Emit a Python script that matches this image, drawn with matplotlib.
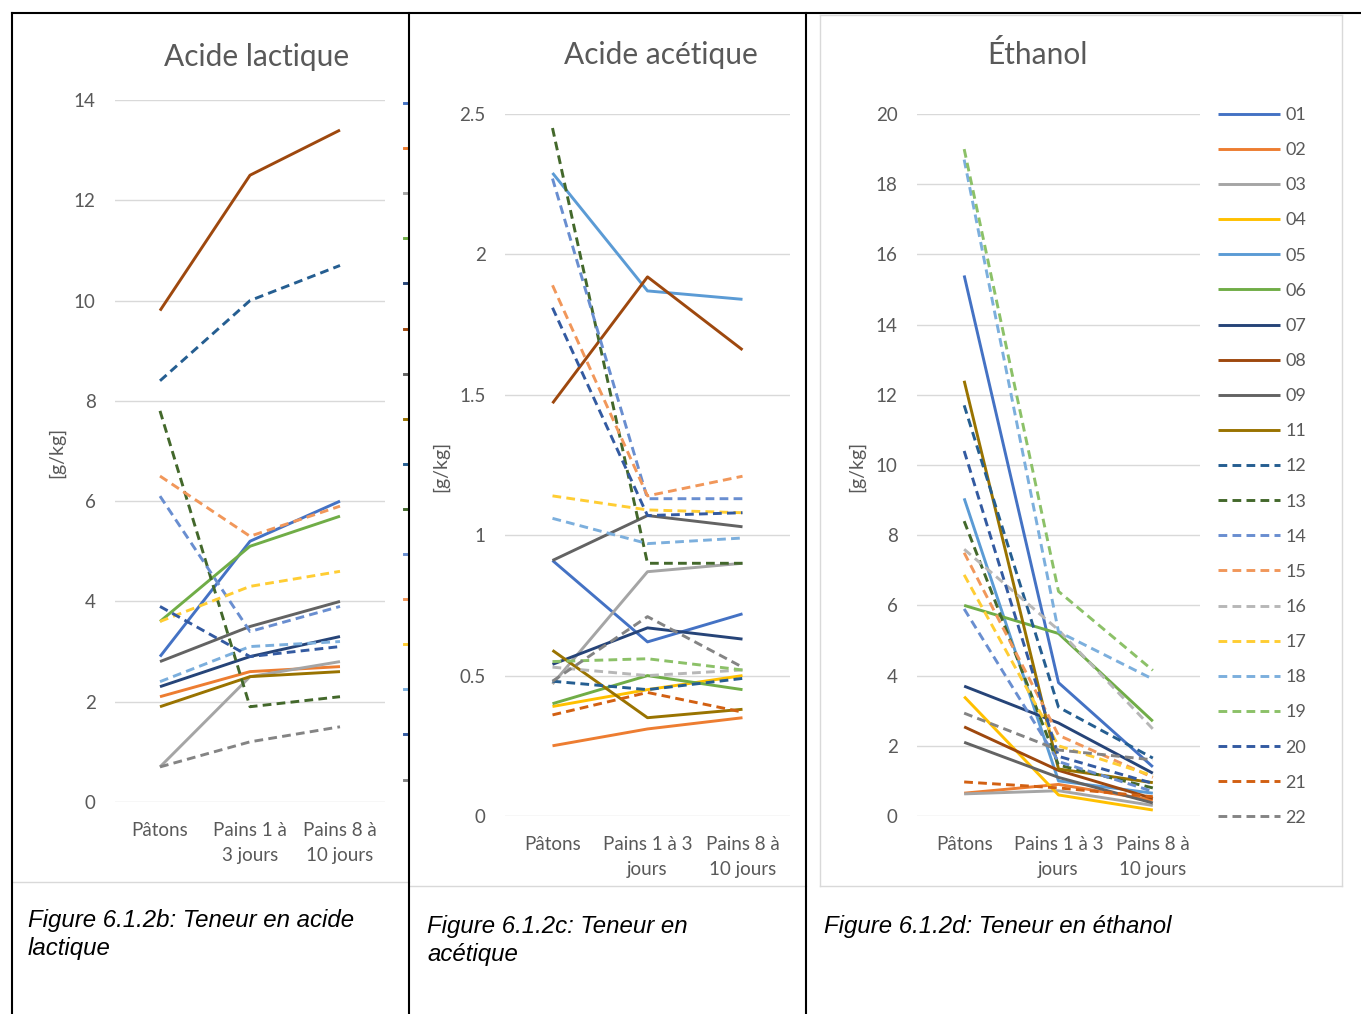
import matplotlib
matplotlib.use("Agg")
import matplotlib.pyplot as plt
from matplotlib.lines import Line2D

W, H = 1361, 1014

series = ["01", "02", "03", "04", "05", "06", "07", "08", "09", "11",
          "12", "13", "14", "15", "16", "17", "18", "19", "20", "21", "22"]
colors = {"01": "#4472C4", "02": "#ED7D31", "03": "#A5A5A5", "04": "#FFC000",
          "05": "#5B9BD5", "06": "#70AD47", "07": "#264478", "08": "#9E480E",
          "09": "#636363", "11": "#997300", "12": "#255E91", "13": "#43682B",
          "14": "#698ED0", "15": "#F1975A", "16": "#B7B7B7", "17": "#FFCD33",
          "18": "#7CAFDD", "19": "#8CC168", "20": "#335AA1", "21": "#D26012",
          "22": "#848484"}
dashed = ["12", "13", "14", "15", "16", "17", "18", "19", "20", "21", "22"]

cats_b = ["Pâtons", "Pains 1 à\n3 jours", "Pains 8 à\n10 jours"]
cats_cd = ["Pâtons", "Pains 1 à 3\njours", "Pains 8 à\n10 jours"]

# acide lactique [g/kg]
lactique = {
    "01": [2.9, 5.2, 6.0], "02": [2.1, 2.6, 2.7], "03": [0.7, 2.5, 2.8],
    "06": [3.6, 5.1, 5.7], "07": [2.3, 2.9, 3.3], "08": [9.8, 12.5, 13.4],
    "09": [2.8, 3.5, 4.0], "11": [1.9, 2.5, 2.6], "12": [8.4, 10.0, 10.7],
    "13": [7.8, 1.9, 2.1], "14": [6.1, 3.4, 3.9], "15": [6.5, 5.3, 5.9],
    "17": [3.6, 4.3, 4.6], "18": [2.4, 3.1, 3.2], "20": [3.9, 2.9, 3.1],
    "22": [0.7, 1.2, 1.5],
}
# acide acétique [g/kg]
acetique = {
    "01": [0.91, 0.62, 0.72], "02": [0.25, 0.31, 0.35], "03": [0.47, 0.87, 0.90],
    "04": [0.39, 0.45, 0.50], "05": [2.29, 1.87, 1.84], "06": [0.40, 0.50, 0.45],
    "07": [0.54, 0.67, 0.63], "08": [1.47, 1.92, 1.66], "09": [0.91, 1.07, 1.03],
    "11": [0.59, 0.35, 0.38], "12": [0.48, 0.45, 0.49], "13": [2.45, 0.90, 0.90],
    "14": [2.27, 1.13, 1.13], "15": [1.89, 1.14, 1.21], "16": [0.53, 0.50, 0.52],
    "17": [1.14, 1.09, 1.08], "18": [1.06, 0.97, 0.99], "19": [0.55, 0.56, 0.52],
    "20": [1.81, 1.07, 1.08], "21": [0.36, 0.44, 0.37], "22": [0.48, 0.71, 0.53],
}
# éthanol [g/kg]
ethanol = {
    "01": [15.4, 3.8, 1.4], "02": [0.65, 0.9, 0.45], "03": [0.63, 0.72, 0.3],
    "04": [3.4, 0.6, 0.17], "05": [9.05, 1.0, 0.65], "06": [6.0, 5.2, 2.7],
    "07": [3.7, 2.65, 1.22], "08": [2.54, 1.3, 0.5], "09": [2.1, 1.1, 0.37],
    "11": [12.4, 1.34, 0.95], "12": [11.7, 3.1, 1.65], "13": [8.4, 1.45, 0.8],
    "14": [5.9, 1.55, 0.7], "15": [7.5, 2.3, 1.1], "16": [7.6, 5.3, 2.48],
    "17": [6.87, 2.0, 1.15], "18": [18.7, 5.25, 3.9], "19": [19.0, 6.4, 4.15],
    "20": [10.4, 1.7, 0.93], "21": [0.97, 0.8, 0.55], "22": [2.93, 1.88, 1.6],
}

TXT = "#595959"
GRID = "#D9D9D9"
FONT = "Lato"
LW = 2.1

fig = plt.figure(figsize=(W / 100, H / 100), dpi=100)


def px_axes(x0, y0, x1, y1):
    return fig.add_axes([x0 / W, 1 - y1 / H, (x1 - x0) / W, (y1 - y0) / H])


def px_line(x0, y0, x1, y1, color="black", lw=1.5):
    fig.add_artist(Line2D([x0 / W, x1 / W], [1 - y0 / H, 1 - y1 / H],
                          transform=fig.transFigure, color=color, lw=lw))


def draw_panel(ax, data, cats, ymax, ystep):
    for s in series:
        if s not in data:
            continue
        ls = (0, (3, 1.8)) if s in dashed else "-"
        ax.plot(range(3), data[s], color=colors[s], lw=LW, linestyle=ls,
                solid_capstyle="butt", dash_capstyle="butt", label=s)
    ax.set_xlim(-0.5, 2.5)
    ax.set_ylim(0, ymax)
    ticks = [i * ystep for i in range(int(round(ymax / ystep)) + 1)]
    ax.set_yticks(ticks, [f"{t:g}" for t in ticks])
    ax.set_xticks(range(3), cats)
    ax.grid(axis="y", color=GRID, lw=1)
    ax.set_axisbelow(True)
    for sp in ax.spines.values():
        sp.set_visible(False)
    ax.tick_params(length=0, colors=TXT, labelsize=13.5)
    ax.tick_params(axis="y", pad=14)
    ax.tick_params(axis="x", pad=14.5)
    for lab in ax.get_xticklabels() + ax.get_yticklabels():
        lab.set_fontfamily(FONT)
    for lab in ax.get_xticklabels():
        lab.set_linespacing(1.55)


ax1 = px_axes(115, 100, 385, 802)
draw_panel(ax1, lactique, cats_b, 14, 2)
ax2 = px_axes(505, 114, 790, 816)
draw_panel(ax2, acetique, cats_cd, 2.5, 0.5)
ax3 = px_axes(917, 114, 1200, 816)
draw_panel(ax3, ethanol, cats_cd, 20, 2)

leg = ax3.legend(loc="upper left", bbox_to_anchor=(1218 / W, 1 - 107 / H),
                 bbox_transform=fig.transFigure, frameon=False, borderpad=0,
                 borderaxespad=0, handlelength=3.43, handletextpad=0.3,
                 labelspacing=1.06, prop={"family": FONT, "size": 13})
for t in leg.get_texts():
    t.set_color(TXT)

# titles and axis labels
fig.text(257 / W, 1 - 57 / H, "Acide lactique", ha="center", va="center",
         fontsize=21.5, color=TXT, family=FONT)
fig.text(661 / W, 1 - 55 / H, "Acide acétique", ha="center", va="center",
         fontsize=21.5, color=TXT, family=FONT)
fig.text(1037 / W, 1 - 55 / H, "Éthanol", ha="center", va="center",
         fontsize=21.5, color=TXT, family=FONT)
for xp, yp in [(57, 452), (441, 466), (857, 466)]:
    fig.text(xp / W, 1 - yp / H, "[g/kg]", ha="center", va="center",
             rotation=90, fontsize=14, color=TXT, family=FONT)

# clipped legend of the first chart, visible at the cell edge
lact_keys = [s for s in series if s in lactique]
for i, s in enumerate(lact_keys):
    yy = 103 + 45.1 * i
    px_line(404, yy, 408, yy, color=colors[s], lw=LW)

# chart borders
px_line(12, 882, 409, 882, color=GRID, lw=1)
px_line(409, 886, 806, 886, color=GRID, lw=1)
px_line(820, 15, 1342, 15, color=GRID, lw=1)
px_line(820, 886, 1342, 886, color=GRID, lw=1)
px_line(820, 15, 820, 886, color=GRID, lw=1)
px_line(1342, 15, 1342, 886, color=GRID, lw=1)

# table lines
px_line(12, 13, 1361, 13)
for xv in (12, 409, 806):
    px_line(xv, 13, xv, 1014)

# captions
cap = dict(fontsize=17.3, style="italic", family="Liberation Sans", va="center",
           ha="left", color="black")
fig.text(28 / W, 1 - 921 / H, "Figure 6.1.2b: Teneur en acide", **cap)
fig.text(28 / W, 1 - 949 / H, "lactique", **cap)
fig.text(427 / W, 1 - 926 / H, "Figure 6.1.2c: Teneur en", **cap)
fig.text(427 / W, 1 - 954 / H, "acétique", **cap)
fig.text(824 / W, 1 - 926 / H, "Figure 6.1.2d: Teneur en éthanol", **cap)

fig.savefig("out.png", dpi=100)
